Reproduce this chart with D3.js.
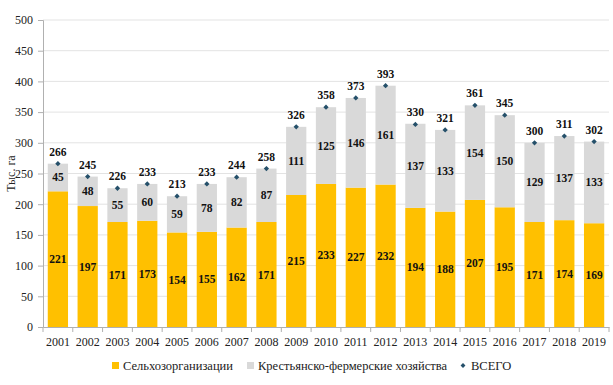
<!DOCTYPE html>
<html>
<head>
<meta charset="utf-8">
<script src="https://cdn.jsdelivr.net/npm/d3@7"></script>
<style>
  body { margin: 0; background: #fff; }
  #chart, #chart text { font-family: 'Liberation Serif', serif !important; }
</style>
</head>
<body>
<svg id="chart" width="613" height="385"></svg>
<script>
// values
var years = ['2001','2002','2003','2004','2005','2006','2007','2008','2009','2010',
  '2011','2012','2013','2014','2015','2016','2017','2018','2019'];
var agro = [221,197,171,173,154,155,162,171,215,233,227,232,194,188,207,195,171,174,169];
var farms = [45,48,55,60,59,78,82,87,111,125,146,161,137,133,154,150,129,137,133];
var total = [266,245,226,233,213,233,244,258,326,358,373,393,330,321,361,345,300,311,302];
var yTicks = [0,50,100,150,200,250,300,350,400,450,500];
var seriesNames = ['Сельхозорганизации', 'Крестьянско-фермерские хозяйства', 'ВСЕГО'];

var svg = d3.select('#chart');
var mLeft = 43, mRight = 609, mTop = 20, mBottom = 327;

var x = d3.scaleBand().domain(years).range([mLeft, mRight]).paddingInner(0.32).paddingOuter(0.16);
var xTick = d3.scaleBand().domain(years).range([mLeft, mRight]);
var y = d3.scaleLinear().domain([0, 500]).range([mBottom, mTop]);

// grid
svg.append('g').selectAll('line')
  .data(yTicks.slice(1))
  .enter().append('line')
  .attr('x1', mLeft).attr('x2', mRight)
  .attr('y1', function (d) { return y(d); }).attr('y2', function (d) { return y(d); })
  .attr('stroke', '#e3e3e3').attr('stroke-width', 1);

// y axis
var yAxis = svg.append('g')
  .attr('transform', 'translate(' + mLeft + ',0)')
  .call(d3.axisLeft(y).tickValues(yTicks).tickSize(5).tickPadding(5));
yAxis.attr('font-family', null).attr('font-size', 12);
yAxis.select('.domain').attr('stroke', '#b0b0b0');
yAxis.selectAll('.tick line').attr('stroke', '#b0b0b0');
yAxis.selectAll('text').attr('fill', '#222');

// x axis
var xAxis = svg.append('g')
  .attr('transform', 'translate(0,' + mBottom + ')')
  .call(d3.axisBottom(xTick).tickSize(0).tickPadding(10));
xAxis.attr('font-family', null).attr('font-size', 12);
xAxis.select('.domain').attr('stroke', '#b0b0b0');
xAxis.selectAll('text').attr('fill', '#222');
// separators between categories
svg.append('g').selectAll('line')
  .data(years.concat(['end']))
  .enter().append('line')
  .attr('x1', function (d, i) { return mLeft + i * xTick.step(); })
  .attr('x2', function (d, i) { return mLeft + i * xTick.step(); })
  .attr('y1', mBottom).attr('y2', mBottom + 5)
  .attr('stroke', '#b0b0b0');

// bars
var bars = svg.append('g');
bars.selectAll('rect.agro')
  .data(agro)
  .enter().append('rect')
  .attr('x', function (d, i) { return x(years[i]); })
  .attr('width', x.bandwidth())
  .attr('y', function (d) { return y(d); })
  .attr('height', function (d) { return y(0) - y(d); })
  .attr('fill', '#ffc000');
bars.selectAll('rect.farm')
  .data(farms)
  .enter().append('rect')
  .attr('x', function (d, i) { return x(years[i]); })
  .attr('width', x.bandwidth())
  .attr('y', function (d, i) { return y(agro[i] + d); })
  .attr('height', function (d) { return y(0) - y(d); })
  .attr('fill', '#d9d9d9');

// bar labels
var labels = svg.append('g')
  .attr('font-size', 11.5).attr('font-weight', 'bold').attr('text-anchor', 'middle').attr('fill', '#111');
labels.selectAll('text.a')
  .data(agro)
  .enter().append('text')
  .attr('x', function (d, i) { return x(years[i]) + x.bandwidth() / 2; })
  .attr('y', function (d) { return y(d / 2) + 4; })
  .text(function (d) { return d; });
labels.selectAll('text.f')
  .data(farms)
  .enter().append('text')
  .attr('x', function (d, i) { return x(years[i]) + x.bandwidth() / 2; })
  .attr('y', function (d, i) { return y(agro[i] + d / 2) + 4; })
  .text(function (d) { return d; });

// totals: small square turned 45 degrees
var sym = d3.symbol().type(d3.symbolSquare).size(14);
svg.append('g').selectAll('path')
  .data(total)
  .enter().append('path')
  .attr('d', sym)
  .attr('transform', function (d, i) {
    return 'translate(' + (x(years[i]) + x.bandwidth() / 2) + ',' + y(d) + ') rotate(45)';
  })
  .attr('fill', '#25506a');
labels.selectAll('text.t')
  .data(total)
  .enter().append('text')
  .attr('x', function (d, i) { return x(years[i]) + x.bandwidth() / 2; })
  .attr('y', function (d) { return y(d) - 8; })
  .text(function (d) { return d; });

// y title
svg.append('text')
  .attr('transform', 'translate(15,' + ((mTop + mBottom) / 2) + ') rotate(-90)')
  .attr('text-anchor', 'middle').attr('font-size', 12).attr('fill', '#222')
  .text('Тыс. га');

// legend
var legend = svg.append('g').attr('font-size', 12.5).attr('fill', '#222');
var lx = [112, 247, 460];
legend.append('rect').attr('x', lx[0]).attr('y', 362).attr('width', 7).attr('height', 7).attr('fill', '#ffc000');
legend.append('rect').attr('x', lx[1]).attr('y', 362).attr('width', 7).attr('height', 7).attr('fill', '#d9d9d9');
legend.append('path').attr('d', d3.symbol().type(d3.symbolSquare).size(12))
  .attr('transform', 'translate(' + (lx[2] + 3) + ',365.5) rotate(45)').attr('fill', '#25506a');
seriesNames.forEach(function (n, i) {
  legend.append('text').attr('x', lx[i] + 11).attr('y', 370).text(n);
});
</script>
</body>
</html>
